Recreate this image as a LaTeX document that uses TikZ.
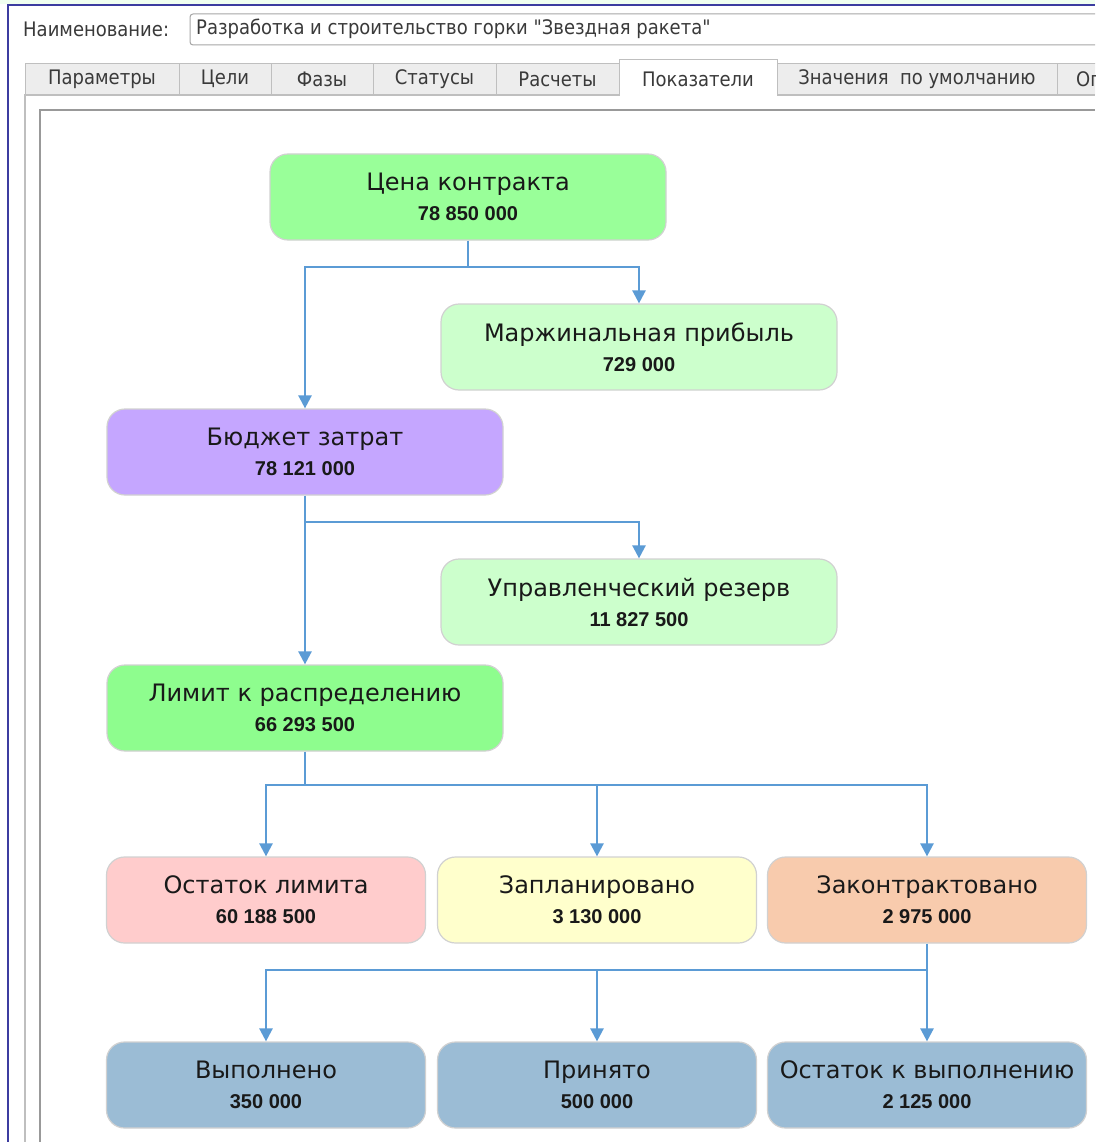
\documentclass[tikz,border=0pt]{standalone}
\usepackage{fontspec}
\setmainfont{DejaVu Sans}
\newfontfamily\uifont{DejaVu Sans Condensed}
\newfontfamily\numfont{Liberation Sans}
\usetikzlibrary{arrows.meta,positioning}

\definecolor{linkblue}{HTML}{5B9BD5}
\definecolor{navyframe}{HTML}{3C3CA0}
\definecolor{kpigreen}{HTML}{99FF99}
\definecolor{kpilime}{HTML}{8EFD8E}
\definecolor{kpimint}{HTML}{CCFFCC}
\definecolor{kpiviolet}{HTML}{C5A6FF}
\definecolor{kpipink}{HTML}{FFCCCC}
\definecolor{kpiyellow}{HTML}{FFFFCC}
\definecolor{kpiorange}{HTML}{F8CBAD}
\definecolor{kpisteel}{HTML}{9BBCD5}
\definecolor{uitext}{HTML}{3A3A3A}

\newcommand{\kpitext}[2]{#1\\[2pt]{\numfont\bfseries\fontsize{20}{24}\selectfont #2}}

\begin{document}
\begin{tikzpicture}[x=1pt, y=-1pt,
  kpi/.style={rectangle, draw=black!18, line width=1.2pt, rounded corners=18pt, align=center,
    minimum height=86pt, inner sep=0pt, text=black!90,
    font=\fontsize{24}{28}\selectfont},
  wide/.style={kpi, minimum width=396pt},
  narrow/.style={kpi, minimum width=319pt},
  wire/.style={draw=linkblue, line width=2.4pt},
  link/.style={wire, -{Triangle[width=13pt,length=13pt]}},
  tab/.style={draw=black!25, fill=black!7, line width=1pt},
  ui/.style={font=\uifont\fontsize{20}{24}\selectfont, text=uitext, inner sep=0pt}]
\useasboundingbox (0,0) rectangle (1095,1142);
\clip (0,0) rectangle (1095,1142);
\fill[white] (0,0) rectangle (1095,1142);
% window frame
\fill[green!6] (0,0) rectangle (1095,4);
\draw[navyframe, line width=2pt] (8,1142) -- (8,5) -- (1095,5);

% name field
\node[ui, anchor=west] (namelbl) at (23,29) {Наименование:};
\draw[black!35, line width=1pt, rounded corners=3pt] (190,14) rectangle (1110,45);
\node[ui, anchor=west] (nameval) at (196,29) {Разработка и строительство горки "Звездная ракета"};

% tabs
\foreach \a/\b/\t [count=\i] in {25/179/Параметры, 179/271/Цели, 271/373/Фазы, 373/496/Статусы, 496/619/Расчеты, 777/1057/Значения\ \ по умолчанию} {
  \draw[tab] (\a,95) -- (\a,64) -- (\b,64) -- (\b,95);
  \node[ui] (tab\i) at ({(\a+\b)/2},79) {\t};
}
\draw[tab] (1057,95) -- (1057,64) -- (1110,64) -- (1110,95);
\node[ui, anchor=west] (tabmore) at (1076,79) {Оп};
\draw[black!25, line width=1pt, fill=white] (619,96) -- (619,60) -- (777,60) -- (777,96);
\node[ui] (tabkpi) at (698,79) {Показатели};
\draw[black!25, line width=1.5pt] (25,1142) -- (25,95) -- (619,95);
\draw[black!25, line width=1.5pt] (777,95) -- (1095,95);
\draw[black!40, line width=2pt] (40,1142) -- (40,110) -- (1095,110);

% indicators
\node[wide, fill=kpigreen] (cena) at (468,197) {\kpitext{Цена контракта}{78 850 000}};
\node[wide, fill=kpimint] (marzha) at (639,347) {\kpitext{Маржинальная прибыль}{729 000}};
\node[wide, fill=kpiviolet] (budget) at (305,452) {\kpitext{Бюджет затрат}{78 121 000}};
\node[wide, fill=kpimint] (reserve) at (639,602) {\kpitext{Управленческий резерв}{11 827 500}};
\node[wide, fill=kpilime] (limit) at (305,708) {\kpitext{Лимит к распределению}{66 293 500}};
\node[narrow, fill=kpipink] (ostlim) at (266,900) {\kpitext{Остаток лимита}{60 188 500}};
\node[narrow, fill=kpiyellow] (plan) at (597,900) {\kpitext{Запланировано}{3 130 000}};
\node[narrow, fill=kpiorange] (contract) at (927,900) {\kpitext{Законтрактовано}{2 975 000}};
\node[narrow, fill=kpisteel] (done) at (266,1085) {\kpitext{Выполнено}{350 000}};
\node[narrow, fill=kpisteel] (accepted) at (597,1085) {\kpitext{Принято}{500 000}};
\node[narrow, fill=kpisteel] (todo) at (927,1085) {\kpitext{Остаток к выполнению}{2 125 000}};

% connectors
\coordinate (j1) at (cena.south |- 0,267);
\coordinate (j2) at (budget.south |- 0,522);
\coordinate (j3) at (limit.south |- 0,785);
\coordinate (j4) at (contract.south |- 0,970);
\draw[wire] (cena.south) -- (j1);
\draw[link] (j1) -| (marzha.north);
\draw[link] (j1) -| (budget.north);
\draw[wire] (budget.south) -- (j2);
\draw[link] (j2) -| (reserve.north);
\draw[link] (j2) -- (limit.north);
\draw[wire] (limit.south) -- (j3);
\draw[link] (j3) -| (ostlim.north);
\draw[link] (j3) -| (plan.north);
\draw[link] (j3) -| (contract.north);
\draw[wire] (contract.south) -- (j4);
\draw[link] (j4) -| (done.north);
\draw[link] (j4) -| (accepted.north);
\draw[link] (j4) -- (todo.north);
\end{tikzpicture}
\end{document}
